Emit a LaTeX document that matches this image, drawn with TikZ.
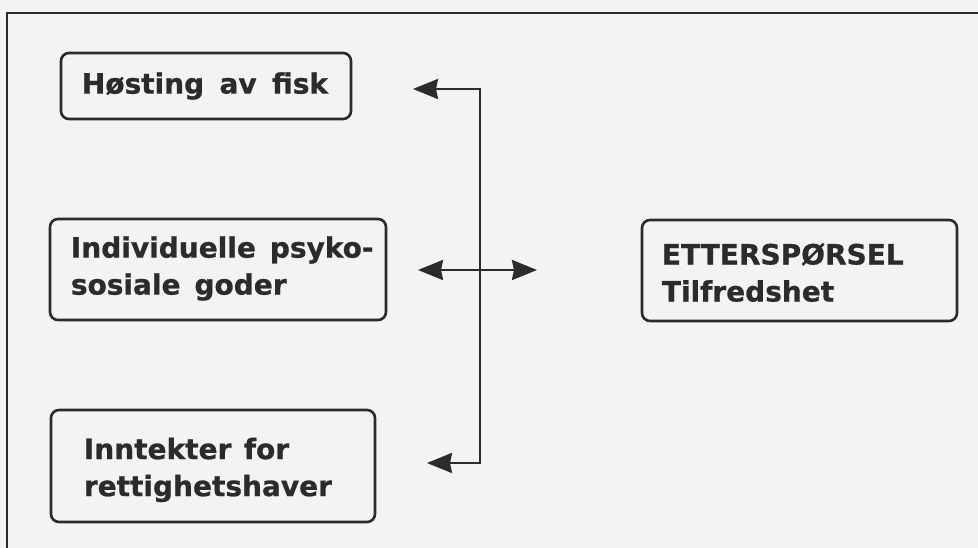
\documentclass[tikz,border=0pt]{standalone}
\usepackage{fontspec}
\setmainfont{DejaVu Sans}[BoldFeatures={FakeBold=0.8}]
\usetikzlibrary{arrows.meta}
\definecolor{bg}{HTML}{F3F3F3}
\definecolor{ink}{HTML}{2B2B2B}
\begin{document}
\begin{tikzpicture}[x=1pt,y=-1pt,
  box/.style={draw=ink, line width=2.6pt, rounded corners=8pt, inner sep=0pt},
  lbl/.style={anchor=west, align=left, inner sep=0pt, text=ink,
    font=\bfseries\fontsize{28}{37}\selectfont},
  conn/.style={draw=ink, line width=2.6pt},
  tipa/.style={{Stealth[length=25pt,width=20pt,inset=2pt]}-{Stealth[length=25pt,width=20pt,inset=2pt]}}
]
\useasboundingbox (0,0) rectangle (978,548);
\fill[bg] (0,0) rectangle (978,548);
% page frame (continues beyond the picture)
\draw[conn] (990,13) -- (7,13) -- (7,560);

% boxes
\node[box, minimum width=290pt, minimum height=66pt] (b1) at (206,86) {};
\node[box, minimum width=336pt, minimum height=101pt] (b2) at (218,269.5) {};
\node[box, minimum width=324pt, minimum height=112pt] (b3) at (213,466) {};
\node[box, minimum width=315pt, minimum height=101pt] (b4) at (799.5,270.5) {};

% labels
\node[lbl] (t1) at ([xshift=22pt,yshift=0pt]b1.west) {Høsting\hspace{0.2em} av\hspace{0.2em} fisk};
\node[lbl] (t2) at ([xshift=22pt,yshift=1pt]b2.west) {Individuelle\hspace{0.15em} psyko-\\sosiale\hspace{0.15em} goder};
\node[lbl] (t3) at ([xshift=34pt,yshift=-4pt]b3.west) {Inntekter\hspace{0.1em} for\\rettighetshaver};
\node[lbl] (t4) at ([xshift=21pt,yshift=-2pt]b4.west) {ETTERSPØRSEL\\Tilfredshet};

% connectors
\coordinate (jt) at (480,89);
\coordinate (jb) at (480,463);
\coordinate (a1) at (413,89);
\coordinate (a3) at (427,463);
\coordinate (m1) at (418,270);
\coordinate (m2) at (537,270);
\draw[conn, tipa] (a1) -- (jt) -- (jb) -- (a3);
\draw[conn, tipa] (m1) -- (m2);
\end{tikzpicture}
\end{document}
